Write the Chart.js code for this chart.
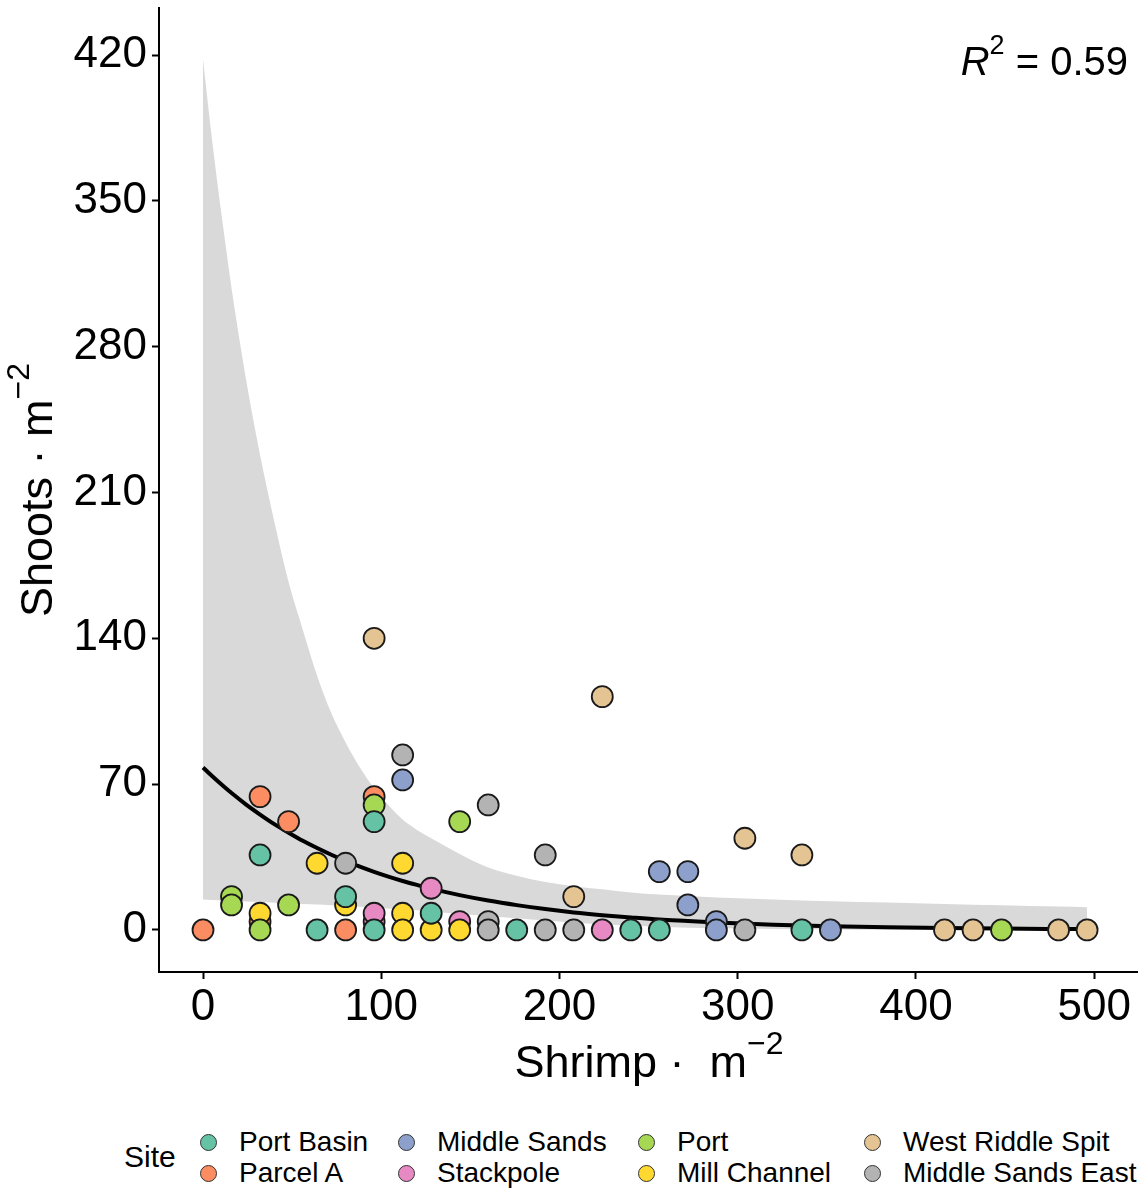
<!DOCTYPE html>
<html>
<head>
<meta charset="utf-8">
<script src="https://cdn.jsdelivr.net/npm/chart.js@4.4.1/dist/chart.umd.min.js"></script>
<style>
  body { margin: 0; background: #fff; font-family: "Liberation Sans", Arial, sans-serif; color: #000; }
  #wrap { position: relative; width: 1143px; height: 1190px; overflow: hidden; }
  #plot { position: absolute; left: 0; top: 0; width: 1143px; height: 1100px; }
  .axis-title { position: absolute; white-space: nowrap; font-size: 45px; line-height: 45px; transform: translate(-50%, -50%); }
  .axis-title .sup { font-size: 32px; position: relative; top: -23px; }
  #ytitle { left: 39px; top: 490px; transform: translate(-50%, -50%) rotate(-90deg); }
  #xtitle { left: 649px; top: 1064px; }
  #r2 { position: absolute; right: 15px; top: 41px; font-size: 40px; line-height: 40px; white-space: nowrap; }
  #r2 .sup { font-size: 27px; position: relative; top: -21px; }
  #legend { position: absolute; left: 0; top: 1110px; width: 1143px; height: 80px; font-size: 28px; }
  #legend .lt { position: absolute; left: 124px; top: 47px; transform: translateY(-50%); font-size: 30px; }
  #legend .item { position: absolute; display: flex; align-items: center; white-space: nowrap; transform: translateY(-50%); }
  #legend .dot { width: 15px; height: 15px; border-radius: 50%; border: 1.3px solid #333; margin-right: 22px; }
</style>
</head>
<body>
<div id="wrap">
  <div id="plot"><canvas id="chart"></canvas></div>
  <div class="axis-title" id="ytitle">Shoots · m<span class="sup">−2</span></div>
  <div class="axis-title" id="xtitle">Shrimp&nbsp;·&nbsp;&nbsp;m<span class="sup">−2</span></div>
  <div id="r2"><i>R</i><span class="sup">2</span> = 0.59</div>
  <div id="legend"><span class="lt">Site</span></div>
</div>
<script>
// sites in legend order, Set2 palette
const siteNames = ['Port Basin', 'Parcel A', 'Middle Sands', 'Stackpole', 'Port', 'Mill Channel', 'West Riddle Spit', 'Middle Sands East'];
const siteColors = ['#66C2A5', '#FC8D62', '#8DA0CB', '#E78AC3', '#A6D854', '#FFD92F', '#E5C494', '#B3B3B3'];

// [shrimp per m2, shoots per m2]
const portBasin = [[32, 36], [96, 52], [80, 16], [64, 0], [96, 0], [128, 8], [176, 0], [240, 0], [256, 0], [336, 0]];
const parcelA = [[0, 0], [32, 64], [48, 52], [96, 64], [80, 0], [32, 4]];
const middleSands = [[112, 72], [256, 28], [272, 28], [272, 12], [288, 4], [288, 0], [352, 0]];
const stackpole = [[128, 20], [96, 4], [96, 8], [144, 4], [224, 0]];
const port = [[96, 60], [144, 52], [16, 16], [16, 12], [48, 12], [32, 0], [448, 0]];
const millChannel = [[64, 32], [112, 32], [80, 12], [32, 8], [112, 8], [112, 0], [128, 0], [144, 0]];
const westRiddleSpit = [[96, 140], [224, 112], [304, 44], [336, 36], [208, 16], [416, 0], [432, 0], [480, 0], [496, 0]];
const middleSandsEast = [[112, 84], [160, 60], [80, 32], [192, 36], [160, 4], [160, 0], [192, 0], [208, 0], [304, 0]];
const sitePoints = [portBasin, parcelA, middleSands, stackpole, port, millChannel, westRiddleSpit, middleSandsEast];

// fitted curve with its confidence band
const fitX = [0, 4, 8, 12, 16, 24, 32, 40, 48, 56, 64, 72, 80, 88, 96, 104, 112, 120, 128, 144, 160, 176, 192, 208, 224, 240, 256, 272, 288, 320, 352, 384, 416, 448, 480, 496];
const fitY = [78, 74.7, 71.6, 68.6, 65.7, 60.3, 55.4, 50.8, 46.7, 42.8, 39.3, 36.1, 33.1, 30.4, 27.9, 25.6, 23.5, 21.6, 19.8, 16.7, 14.1, 11.9, 10.0, 8.4, 7.1, 6.0, 5.0, 4.3, 3.6, 2.5, 1.8, 1.3, 0.9, 0.65, 0.46, 0.38];
const bandHigh = [418, 387, 359, 333, 308, 265, 228, 196, 167, 144, 122, 104, 90, 78, 68, 60, 53, 48, 44, 36.5, 30, 26, 23, 21, 19.5, 18, 17, 16.3, 15.6, 14.6, 13.8, 13.2, 12.5, 11.8, 11.2, 10.9];
const bandLow = [14.6, 14.4, 14.3, 14.1, 14.0, 13.7, 13.4, 13.1, 12.9, 12.5, 12.2, 11.9, 11.5, 11.1, 10.7, 10.3, 9.9, 9.4, 8.9, 7.8, 6.7, 5.6, 4.5, 3.5, 2.7, 2.0, 1.5, 1.1, 0.9, 0.5, 0.25, 0.14, 0.07, 0.04, 0.02, 0.015];

const xTicks = [0, 100, 200, 300, 400, 500];
const yTicks = [0, 70, 140, 210, 280, 350, 420];

// stacking of overlapping circles: lower number is painted on top
const siteDrawOrder = [0, 4, 5, 3, 1, 2, 7, 6];

const toXY = ys => fitX.map((x, i) => ({ x: x, y: ys[i] }));

const siteDatasets = siteNames.map((name, i) => ({
  type: 'scatter',
  label: name,
  data: sitePoints[i].map(([x, y]) => ({ x: x, y: y })),
  backgroundColor: siteColors[i],
  borderColor: '#1a1a1a',
  borderWidth: 1.8,
  pointRadius: 10.5,
  order: siteDrawOrder[i]
}));

const datasets = [
  ...siteDatasets,
  {
    type: 'line',
    label: 'band low',
    data: toXY(bandLow),
    borderWidth: 0,
    pointRadius: 0,
    fill: false,
    cubicInterpolationMode: 'monotone',
    order: 20
  },
  {
    type: 'line',
    label: 'band high',
    data: toXY(bandHigh),
    borderWidth: 0,
    pointRadius: 0,
    backgroundColor: 'rgb(217, 217, 217)',
    fill: siteDatasets.length, // fill down to the low edge
    cubicInterpolationMode: 'monotone',
    order: 19
  },
  {
    type: 'line',
    label: 'fit',
    data: toXY(fitY),
    borderColor: '#000',
    borderWidth: 4,
    pointRadius: 0,
    fill: false,
    cubicInterpolationMode: 'monotone',
    order: 10
  }
];

const tickFont = { family: 'Liberation Sans', size: 44 };
const axisGrid = { display: true, drawOnChartArea: false, drawTicks: true, tickLength: 7, tickWidth: 2, color: '#000' };

// keep the panel edges fixed instead of leaving room for overhanging labels
function fixX(axis) {
  axis.height = 128;
  axis.paddingLeft = 0;
  axis.paddingRight = 0;
}
function fixY(axis) {
  axis.width = 159;
  axis.paddingTop = 0;
  axis.paddingBottom = 0;
}

new Chart(document.getElementById('chart'), {
  type: 'scatter',
  data: { datasets: datasets },
  options: {
    responsive: true,
    maintainAspectRatio: false,
    animation: false,
    events: [],
    layout: { autoPadding: false, padding: { left: 0, top: 8, right: 6, bottom: 0 } },
    plugins: { legend: { display: false }, tooltip: { enabled: false } },
    scales: {
      x: {
        type: 'linear',
        min: -24.7,
        max: 524,
        afterBuildTicks: axis => { axis.ticks = xTicks.map(v => ({ value: v })); },
        afterFit: fixX,
        grid: axisGrid,
        border: { display: true, color: '#000', width: 2 },
        ticks: { color: '#000', font: tickFont, padding: 2, maxRotation: 0, autoSkip: false }
      },
      y: {
        type: 'linear',
        min: -20.2,
        max: 442.6,
        afterBuildTicks: axis => { axis.ticks = yTicks.map(v => ({ value: v })); },
        afterFit: fixY,
        grid: axisGrid,
        border: { display: true, color: '#000', width: 2 },
        ticks: { color: '#000', font: tickFont, padding: 5, autoSkip: false }
      }
    }
  }
});

// legend: two rows, filled column by column
const legend = document.getElementById('legend');
const colLeft = [200, 398, 638, 864];
const rowMid = [32, 63];
siteNames.forEach((name, i) => {
  const item = document.createElement('div');
  item.className = 'item';
  item.style.left = colLeft[Math.floor(i / 2)] + 'px';
  item.style.top = rowMid[i % 2] + 'px';
  const dot = document.createElement('span');
  dot.className = 'dot';
  dot.style.background = siteColors[i];
  item.appendChild(dot);
  item.appendChild(document.createTextNode(name));
  legend.appendChild(item);
});
</script>
</body>
</html>
